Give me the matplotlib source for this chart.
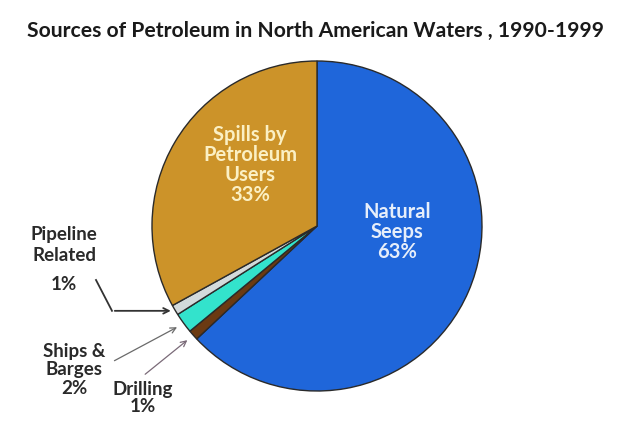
import matplotlib.pyplot as plt
import numpy as np

labels = ['Natural Seeps', 'Drilling', 'Ships & Barges', 'Pipeline Related', 'Spills by Petroleum Users']
shares = [63, 1, 2, 1, 33]
colors = ['#1f66da', '#6b3a12', '#33e3cc', '#d3dadb', '#cc9329']
title = 'Sources of Petroleum in North American Waters , 1990-1999'

W, H = 640, 441
fig = plt.figure(figsize=(W / 100, H / 100), dpi=100)
ax = fig.add_axes([0, 0, 1, 1])
ax.axis('off')

cx, cy, r = 317, H - 226, 165
wedges, _ = ax.pie(shares, colors=colors, startangle=90, counterclock=False,
                   center=(cx, cy), radius=r,
                   wedgeprops=dict(edgecolor='#2a2a2a', linewidth=1.0))
ax.set_xlim(0, W)
ax.set_ylim(0, H)
ax.set_aspect('equal')

font = 'Lato'
ax.text(27, H - 31, title, fontsize=15.2, fontweight='bold', family=font,
        color='#1a1a1a', va='center')

# labels inside the two big wedges
ax.text(250, H - 165, 'Spills by\nPetroleum\nUsers\n33%', ha='center', va='center',
        fontsize=14.5, fontweight='bold', family=font, color='#fbf0c4', linespacing=1.0)
ax.text(397, H - 232, 'Natural\nSeeps\n63%', ha='center', va='center',
        fontsize=14.5, fontweight='bold', family=font, color='#e6eefa', linespacing=1.0)


def edge_point(w, rr=1.0):
    ang = np.deg2rad((w.theta1 + w.theta2) / 2)
    return cx + rr * r * np.cos(ang), cy + rr * r * np.sin(ang)


lab_kw = dict(ha='center', fontsize=13.5, fontweight='bold', family=font, color='#2a2a2a')

# pipeline: label, elbow line, arrow
ax.text(64, H - 245, 'Pipeline\nRelated', va='center', linespacing=1.25, **lab_kw)
ax.text(64, H - 285, '1%', va='center', **lab_kw)
px, py = edge_point(wedges[3], 1.01)
ax.plot([96, 112], [H - 280, py], color='#333333', lw=1.3)
ax.annotate('', xy=(px, py), xytext=(112, py),
            arrowprops=dict(arrowstyle='->', color='#333333', lw=1.3))

# ships & barges
ax.text(74, H - 370, 'Ships &\nBarges\n2%', va='center', linespacing=1.12, **lab_kw)
sx, sy = edge_point(wedges[2], 1.03)
ax.annotate('', xy=(sx, sy), xytext=(112, H - 362),
            arrowprops=dict(arrowstyle='->', color='#6a6a6a', lw=0.9))

# drilling
ax.text(143, H - 398, 'Drilling\n1%', va='center', linespacing=1.05, **lab_kw)
dx, dy = edge_point(wedges[1], 1.03)
ax.annotate('', xy=(dx, dy), xytext=(143, H - 376),
            arrowprops=dict(arrowstyle='->', color='#7a6a78', lw=0.9))

fig.savefig('out.png', dpi=100)
